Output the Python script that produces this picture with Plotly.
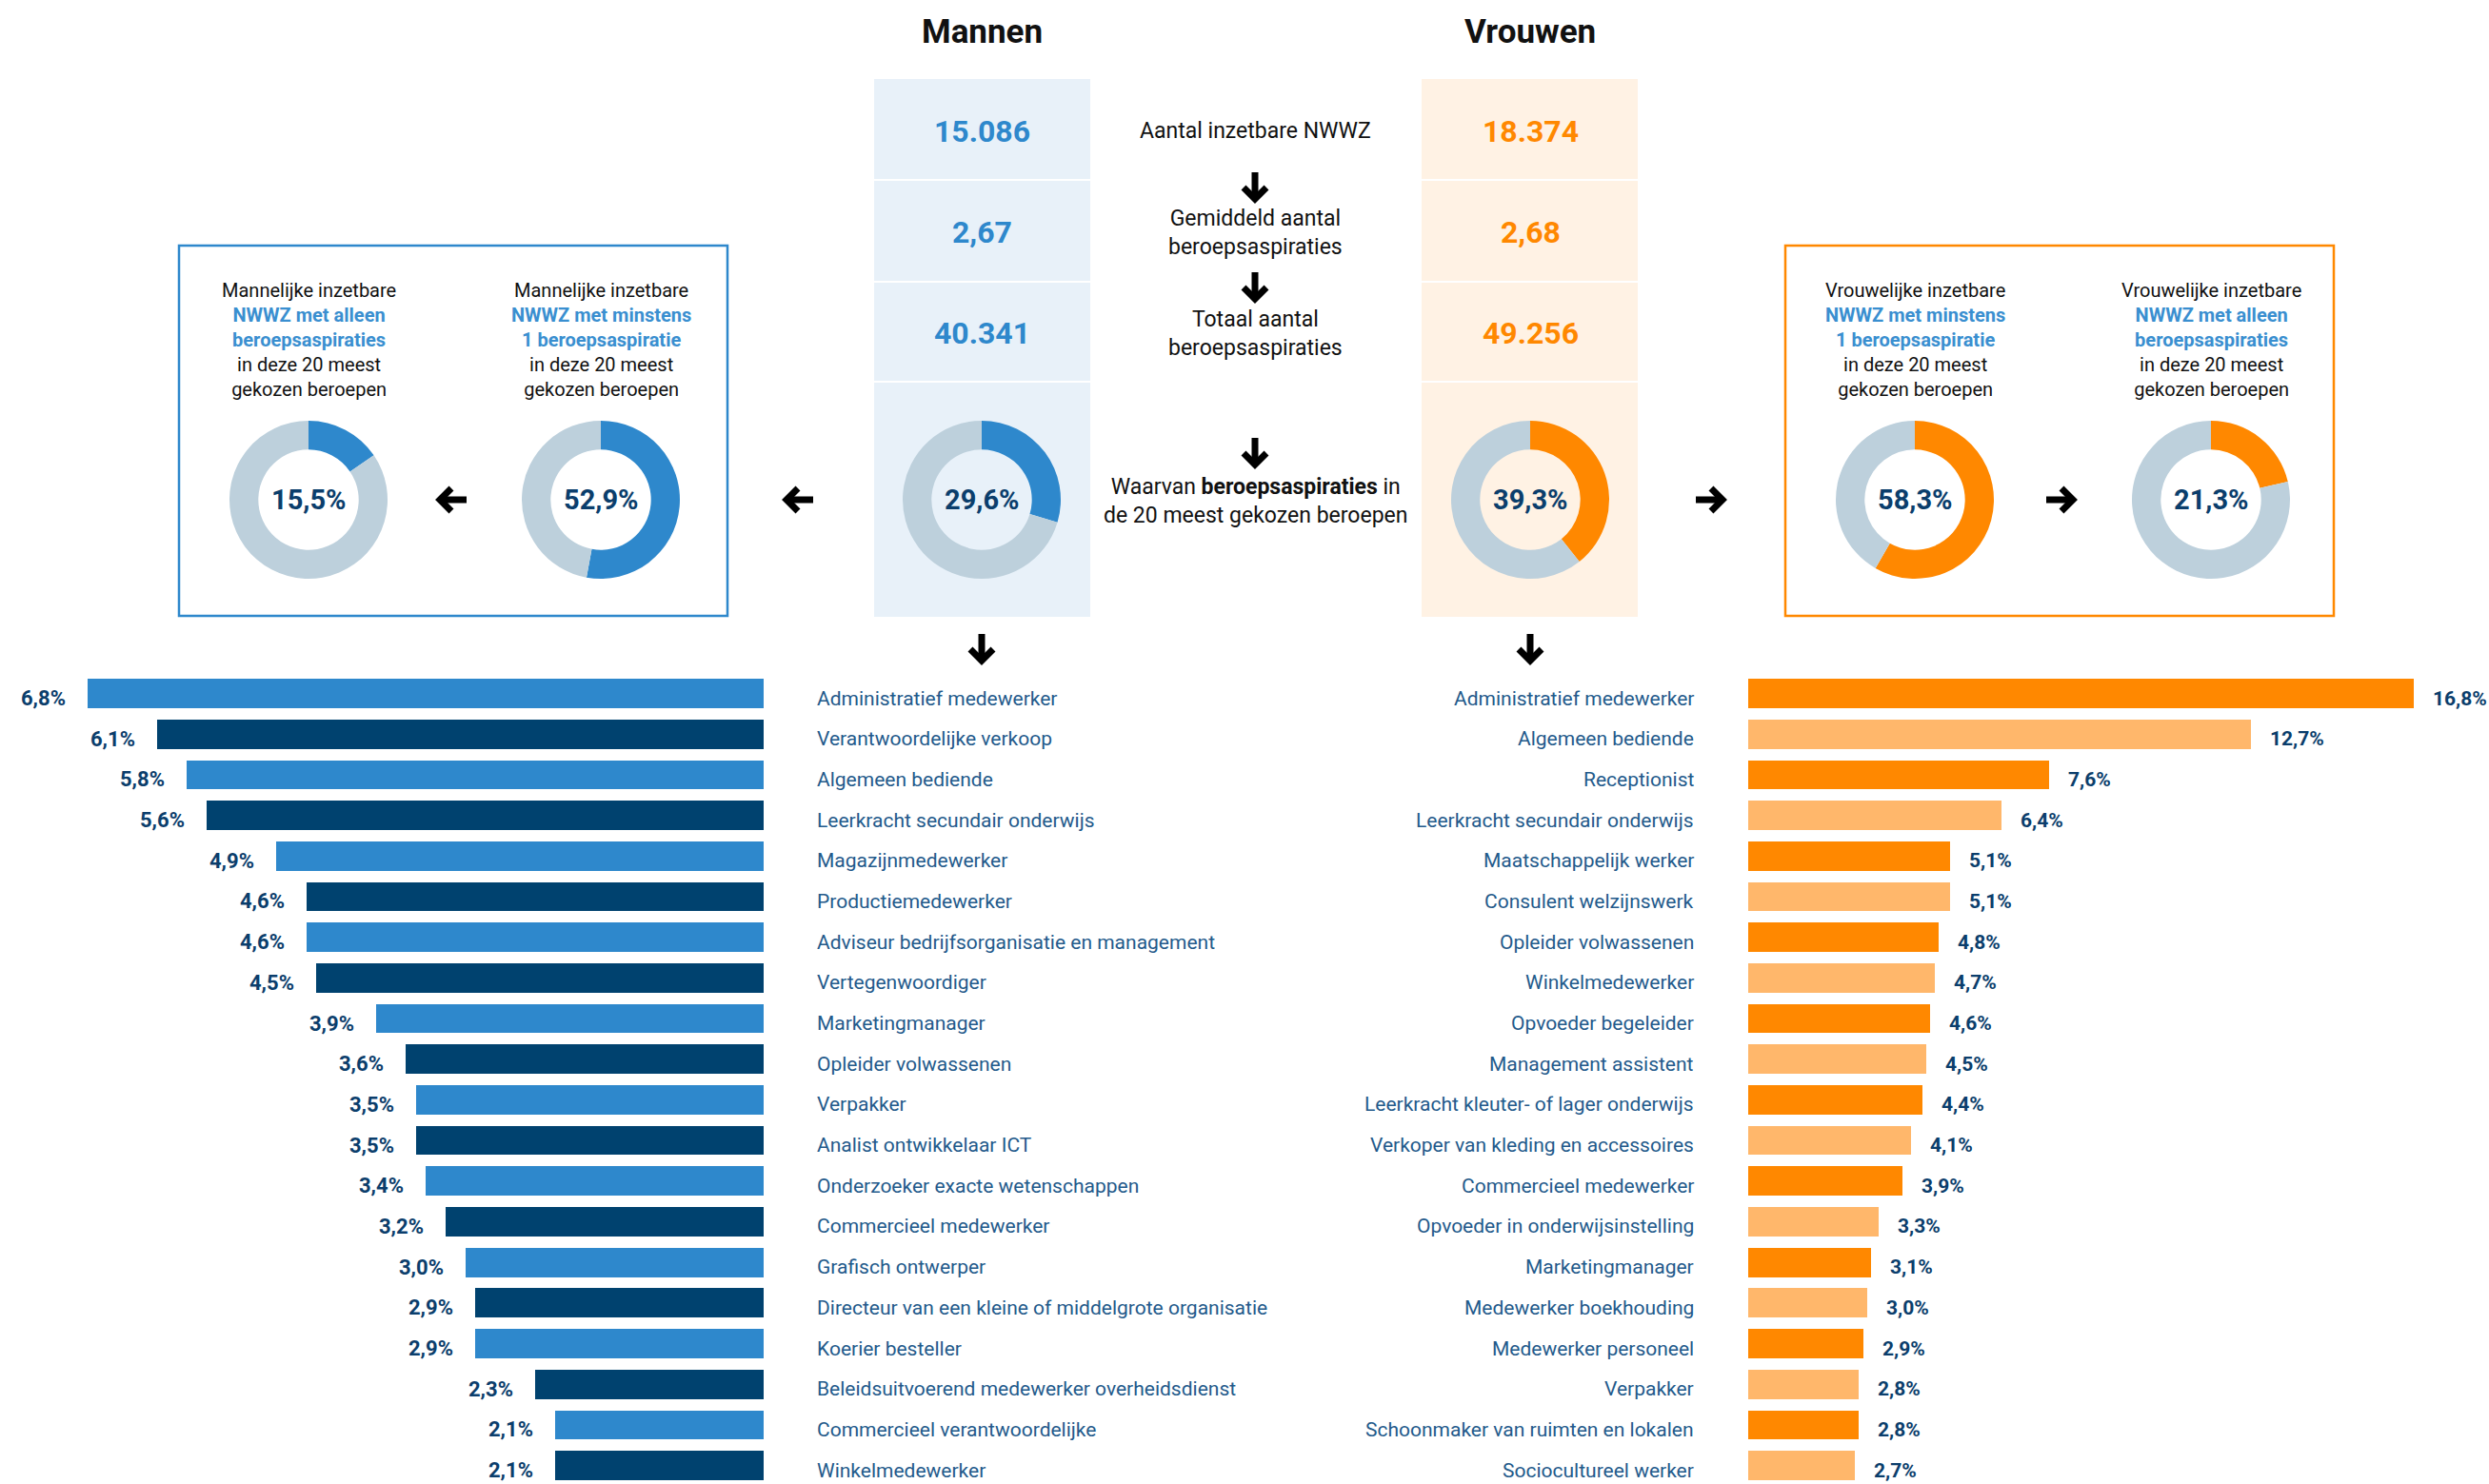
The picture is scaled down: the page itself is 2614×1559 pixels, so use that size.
import plotly.graph_objects as go

# ---------------- DATA ----------------
men_categories = [
    "Administratief medewerker", "Verantwoordelijke verkoop", "Algemeen bediende",
    "Leerkracht secundair onderwijs", "Magazijnmedewerker", "Productiemedewerker",
    "Adviseur bedrijfsorganisatie en management", "Vertegenwoordiger", "Marketingmanager",
    "Opleider volwassenen", "Verpakker", "Analist ontwikkelaar ICT",
    "Onderzoeker exacte wetenschappen", "Commercieel medewerker", "Grafisch ontwerper",
    "Directeur van een kleine of middelgrote organisatie", "Koerier besteller",
    "Beleidsuitvoerend medewerker overheidsdienst", "Commercieel verantwoordelijke",
    "Winkelmedewerker",
]
men_values = [6.8, 6.1, 5.8, 5.6, 4.9, 4.6, 4.6, 4.5, 3.9, 3.6, 3.5, 3.5, 3.4, 3.2, 3.0,
              2.9, 2.9, 2.3, 2.1, 2.1]

women_categories = [
    "Administratief medewerker", "Algemeen bediende", "Receptionist",
    "Leerkracht secundair onderwijs", "Maatschappelijk werker", "Consulent welzijnswerk",
    "Opleider volwassenen", "Winkelmedewerker", "Opvoeder begeleider",
    "Management assistent", "Leerkracht kleuter- of lager onderwijs",
    "Verkoper van kleding en accessoires", "Commercieel medewerker",
    "Opvoeder in onderwijsinstelling", "Marketingmanager", "Medewerker boekhouding",
    "Medewerker personeel", "Verpakker", "Schoonmaker van ruimten en lokalen",
    "Sociocultureel werker",
]
women_values = [16.8, 12.7, 7.6, 6.4, 5.1, 5.1, 4.8, 4.7, 4.6, 4.5, 4.4, 4.1, 3.9, 3.3,
                3.1, 3.0, 2.9, 2.8, 2.8, 2.7]

stat_labels = ["Aantal inzetbare NWWZ", "Gemiddeld aantal<br>beroepsaspiraties",
               "Totaal aantal<br>beroepsaspiraties"]
men_stats = ["15.086", "2,67", "40.341"]
women_stats = ["18.374", "2,68", "49.256"]

men_top20_share = 29.6
women_top20_share = 39.3
men_side_shares = [15.5, 52.9]     # alleen, minstens 1
women_side_shares = [58.3, 21.3]   # minstens 1, alleen

# ---------------- STYLE ----------------
W, H = 2614, 1559
FONT = "Roboto, 'Noto Sans', sans-serif"
BLUE = "#2E88CC"
NAVY = "#00426F"
ORANGE = "#FF8800"
LORANGE = "#FFB76B"
GREY = "#BDD0DC"
TXTNAVY = "#0B3E6C"
CATCOL = "#235A8B"
LBLUE_BG = "#E8F1F9"
LORANGE_BG = "#FFF2E4"


def px(x):
    return x / W


def py(y):
    return 1 - y / H


fig = go.Figure()
shapes = []
ann = []


def text_ann(x, y, text, size, color="#111111", weight="normal", xanchor="center",
             yanchor="middle", xref="paper", yref="paper", **kw):
    ann.append(dict(x=x, y=y, xref=xref, yref=yref, text=text, showarrow=False,
                    xanchor=xanchor, yanchor=yanchor, align="center", borderpad=0,
                    font=dict(family=FONT, size=size, color=color, weight=weight), **kw))


# ---------------- BARS ----------------
row0, rowstep = 728.5, 42.69
ytop, ybot = 700, 1559
yrange = [19 + (ybot - (row0 + 19 * rowstep)) / rowstep, -(row0 - ytop) / rowstep]

men_right, men_scale = 802, 104.4
women_left, women_scale = 1836, 41.6

fig.add_trace(go.Bar(
    x=men_values, y=men_categories, orientation="h",
    marker=dict(color=[BLUE if i % 2 == 0 else NAVY for i in range(len(men_values))], line_width=0),
    width=0.72, xaxis="x", yaxis="y", hoverinfo="skip", showlegend=False))
fig.add_trace(go.Bar(
    x=women_values, y=women_categories, orientation="h",
    marker=dict(color=[ORANGE if i % 2 == 0 else LORANGE for i in range(len(women_values))], line_width=0),
    width=0.72, xaxis="x2", yaxis="y2", hoverinfo="skip", showlegend=False))


def fmt(v):
    return f"{v:.1f}".replace(".", ",") + "%"


for c, v in zip(men_categories, men_values):
    text_ann(v, c, fmt(v), 22, TXTNAVY, "bold", xanchor="right", xref="x", yref="y",
             xshift=-22, yshift=-5)
    text_ann(px(857), c, c, 21, CATCOL, xanchor="left", yref="y", yshift=-5)
for c, v in zip(women_categories, women_values):
    text_ann(v, c, fmt(v), 21, TXTNAVY, "bold", xanchor="left", xref="x2", yref="y2",
             xshift=19, yshift=-5)
    text_ann(px(1780), c, c, 21, CATCOL, xanchor="right", yref="y2", yshift=-5)

# ---------------- HEADER COLUMNS ----------------
cells = [(83, 188), (190, 295), (297, 400), (402, 648)]
for (x0, x1, bg) in [(918, 1145, LBLUE_BG), (1493, 1720, LORANGE_BG)]:
    for (y0, y1) in cells:
        shapes.append(dict(type="rect", xref="paper", yref="paper",
                           x0=px(x0), x1=px(x1), y0=py(y1), y1=py(y0),
                           fillcolor=bg, line_width=0, layer="below"))

for name, cx in [("Mannen", 1031), ("Vrouwen", 1607)]:
    text_ann(px(cx), py(33), name, 35, "#111111", "bold")

stat_y = [138, 244, 350]
for lbl, ms, ws, yy in zip(stat_labels, men_stats, women_stats, stat_y):
    text_ann(px(1031), py(yy), ms, 32, BLUE, "bold")
    text_ann(px(1607), py(yy), ws, 32, ORANGE, "bold")
    text_ann(px(1318), py(yy), lbl, 23)
text_ann(px(1318), py(526), "Waarvan <b>beroepsaspiraties</b> in<br>de 20 meest gekozen beroepen", 23)

# ---------------- DONUTS ----------------
R = 83


def donut(cx, cy, pct, color):
    fig.add_trace(go.Pie(
        values=[pct, 100 - pct], marker=dict(colors=[color, GREY], line_width=0),
        hole=0.635, sort=False, direction="clockwise", rotation=0,
        textinfo="none", hoverinfo="skip", showlegend=False,
        domain=dict(x=[px(cx - R), px(cx + R)], y=[py(cy + R), py(cy - R)])))
    text_ann(px(cx), py(cy), fmt(pct), 29, TXTNAVY, "bold")


donut(1031, 525, men_top20_share, BLUE)
donut(1607, 525, women_top20_share, ORANGE)
donut(324, 525, men_side_shares[0], BLUE)
donut(631, 525, men_side_shares[1], BLUE)
donut(2011, 525, women_side_shares[0], ORANGE)
donut(2322, 525, women_side_shares[1], ORANGE)

# side boxes
shapes.append(dict(type="rect", xref="paper", yref="paper", x0=px(188), x1=px(764),
                   y0=py(647), y1=py(258), line=dict(color=BLUE, width=2.5), fillcolor="rgba(0,0,0,0)"))
shapes.append(dict(type="rect", xref="paper", yref="paper", x0=px(1875), x1=px(2451),
                   y0=py(647), y1=py(258), line=dict(color=ORANGE, width=2.5), fillcolor="rgba(0,0,0,0)"))

HL = "#3A8FD0"


def boxtext(first, hl1, hl2):
    return (f"{first}<br><b><span style='color:{HL}'>{hl1}</span></b><br>"
            f"<b><span style='color:{HL}'>{hl2}</span></b><br>in deze 20 meest<br>gekozen beroepen")


box_texts = [
    (324, boxtext("Mannelijke inzetbare", "NWWZ met alleen", "beroepsaspiraties")),
    (631, boxtext("Mannelijke inzetbare", "NWWZ met minstens", "1 beroepsaspiratie")),
    (2011, boxtext("Vrouwelijke inzetbare", "NWWZ met minstens", "1 beroepsaspiratie")),
    (2322, boxtext("Vrouwelijke inzetbare", "NWWZ met alleen", "beroepsaspiraties")),
]
for cx, t in box_texts:
    text_ann(px(cx), py(357), t, 20)


# ---------------- ARROWS ----------------
def arrow(cx, cy, d, L=28, hw=12, lw=7):
    h = L / 2
    if d == "down":
        shaft = (cx, cy - h, cx, cy + h - 4)
        head = [(cx - hw, cy + h - hw), (cx, cy + h), (cx + hw, cy + h - hw)]
    elif d == "left":
        shaft = (cx + h, cy, cx - h + 4, cy)
        head = [(cx - h + hw, cy - hw), (cx - h, cy), (cx - h + hw, cy + hw)]
    else:
        shaft = (cx - h, cy, cx + h - 4, cy)
        head = [(cx + h - hw, cy - hw), (cx + h, cy), (cx + h - hw, cy + hw)]
    shapes.append(dict(type="line", xref="paper", yref="paper",
                       x0=px(shaft[0]), y0=py(shaft[1]), x1=px(shaft[2]), y1=py(shaft[3]),
                       line=dict(color="black", width=lw)))
    path = "M {} {} L {} {} L {} {}".format(px(head[0][0]), py(head[0][1]),
                                            px(head[1][0]), py(head[1][1]),
                                            px(head[2][0]), py(head[2][1]))
    shapes.append(dict(type="path", xref="paper", yref="paper", path=path,
                       line=dict(color="black", width=lw)))


arrow(1318, 195, "down")
arrow(1318, 300, "down")
arrow(1318, 474, "down")
arrow(1031, 680, "down")
arrow(1607, 680, "down")
arrow(840, 525, "left")
arrow(476, 525, "left")
arrow(1795, 525, "right")
arrow(2163, 525, "right")

# ---------------- LAYOUT ----------------
fig.update_layout(
    width=W, height=H, autosize=False,
    margin=dict(l=0, r=0, t=0, b=0, pad=0),
    paper_bgcolor="white", plot_bgcolor="rgba(0,0,0,0)",
    showlegend=False, bargap=0,
    font=dict(family=FONT),
    xaxis=dict(domain=[0, px(men_right)], range=[men_right / men_scale, 0], visible=False,
               fixedrange=True),
    yaxis=dict(domain=[py(ybot), py(ytop)], range=yrange, type="category",
               categoryorder="array", categoryarray=men_categories, visible=False,
               anchor="x", fixedrange=True),
    xaxis2=dict(domain=[px(women_left), 1], range=[0, (W - women_left) / women_scale],
                visible=False, anchor="y2", fixedrange=True),
    yaxis2=dict(domain=[py(ybot), py(ytop)], range=yrange, type="category",
                categoryorder="array", categoryarray=women_categories, visible=False,
                anchor="x2", fixedrange=True),
    shapes=shapes,
    annotations=ann,
)

fig.write_html("out.html", config={"displayModeBar": False},
               post_script="document.body.style.margin='0';document.body.style.overflow='hidden';")
